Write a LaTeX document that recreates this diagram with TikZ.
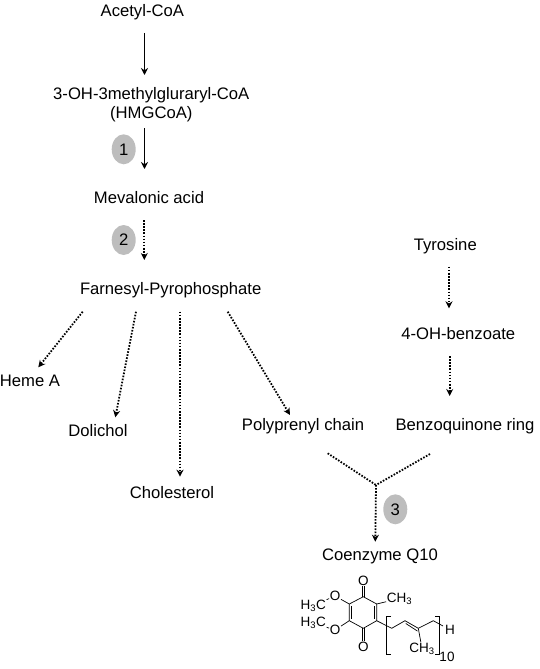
\documentclass[tikz,border=0pt]{standalone}
\usepackage{fontspec}
\setmainfont{Liberation Sans}
\usepackage{tikz}
\usetikzlibrary{positioning,arrows.meta,calc,shapes.geometric}
\definecolor{badgegray}{HTML}{BDBDBD}
\tikzset{
  >={Stealth[length=7pt,width=7pt]},
  label/.style={font=\fontsize{16.65}{19}\selectfont,inner sep=1pt,align=center},
  badge/.style={ellipse,fill=badgegray,minimum width=24pt,minimum height=30pt,inner sep=0pt,font=\fontsize{16.65}{18}\selectfont},
  solidarrow/.style={->,line width=1.9pt},
  dotarrow/.style={->,line width=1.8pt,dash pattern=on 1.6pt off 1.5pt},
  dotline/.style={line width=1.8pt,dash pattern=on 1.6pt off 1.5pt},
  atom/.style={font=\fontsize{13.5}{15}\selectfont,inner sep=0.5pt},
  bond/.style={line width=0.7pt},
}
\begin{document}
\begin{tikzpicture}[x=1pt,y=-1pt]
\useasboundingbox (0,0) rectangle (540,669);

% pathway
\node[label] (acetyl) at (142.3,12.5) {Acetyl-CoA};
\node[label] (hmg) at (151.3,104.5) {3-OH-3methylgluraryl-CoA\\(HMGCoA)};
\node[label] (mevalonic) at (149,198) {Mevalonic acid};
\node[label] (farnesyl) at (170.7,290.5) {Farnesyl-Pyrophosphate};
\node[label] (heme) at (30,381) {Heme A};
\node[label] (dolichol) at (98,431) {Dolichol};
\node[label] (cholesterol) at (172,493) {Cholesterol};
\node[label] (polyprenyl) at (303,426.5) {Polyprenyl chain};
\node[label] (tyrosine) at (445.3,246) {Tyrosine};
\node[label] (benzoate) at (458.3,334) {4-OH-benzoate};
\node[label] (benzoquinone) at (465,426) {Benzoquinone ring};
\node[label] (q10) at (380,556) {Coenzyme Q10};

\node[badge] (one) at (123.7,149.3) {1};
\node[badge] (two) at (123.7,240) {2};
\node[badge] (three) at (395.3,509.3) {3};

\coordinate (ypoly) at (327.7,453.3);
\coordinate (ybenzo) at (430,454);
\coordinate (yjoin) at (376,485);

\draw[solidarrow] ([xshift=2.2pt,yshift=-20.5pt]acetyl.center) -- ([xshift=-6.8pt,yshift=29.5pt]hmg.center);
\draw[solidarrow] ([xshift=-6.8pt,yshift=-23.5pt]hmg.center) -- ([xshift=-4.5pt,yshift=29pt]mevalonic.center);
\draw[dotarrow] ([xshift=-4.7pt,yshift=-22pt]mevalonic.center) -- ([xshift=-26.4pt,yshift=30.5pt]farnesyl.center);

\draw[dotarrow] ([xshift=-88pt,yshift=-21.2pt]farnesyl.center) -- ([xshift=8.3pt,yshift=13.7pt]heme.center);
\draw[dotarrow] ([xshift=-34.7pt,yshift=-21.2pt]farnesyl.center) -- ([xshift=17.3pt,yshift=13.7pt]dolichol.center);
\draw[dotarrow] ([xshift=9.3pt,yshift=-21.2pt]farnesyl.center) -- ([xshift=8pt,yshift=16.3pt]cholesterol.center);
\draw[dotarrow] ([xshift=57pt,yshift=-21.2pt]farnesyl.center) -- ([xshift=-13pt,yshift=11.5pt]polyprenyl.center);
\draw[dotarrow] ([xshift=3.7pt,yshift=-20.7pt]tyrosine.center) -- ([xshift=-9.3pt,yshift=25.7pt]benzoate.center);
\draw[dotarrow] ([xshift=-8.6pt,yshift=-22pt]benzoate.center) -- ([xshift=-15.3pt,yshift=30pt]benzoquinone.center);

\draw[dotline] (ypoly) -- (yjoin);
\draw[dotline] (ybenzo) -- (yjoin);
\draw[dotarrow] (yjoin) -- ([xshift=-4.7pt,yshift=14.3pt]q10.center);

% quinone structure
\coordinate (r1) at (363.3,596.7);
\coordinate (r2) at (376.7,604);
\coordinate (r3) at (376.7,620.7);
\coordinate (r4) at (363.3,628.3);
\coordinate (r5) at (349.3,620.7);
\coordinate (r6) at (349.3,604);
\coordinate (c1) at (391.7,628.3);
\coordinate (c2) at (405,620.7);
\coordinate (c3) at (418.3,628.3);
\coordinate (c4) at (433.3,620.7);
\coordinate (c5) at (443,626);

\node[atom] (otop) at (363.3,581) {O};
\node[atom] (obot) at (363.3,646.7) {O};
\node[atom] (oup) at (335,596) {O};
\node[atom] (olow) at (335,630) {O};
\node[atom] (ch3a) at (313.3,605.5) {H\textsubscript{3}C};
\node[atom] (ch3b) at (313.3,623) {H\textsubscript{3}C};
\node[atom] (ch3c) at (399.5,598.5) {CH\textsubscript{3}};
\node[atom] (ch3d) at (422,648.5) {CH\textsubscript{3}};
\node[atom] (hend) at (450,630) {H};
\node[atom] (ten) at (447,657) {10};

\draw[bond] (r1) -- (r2) -- (r3) -- (r4) -- (r5) -- (r6) -- cycle;
\draw[bond] ($(r2)+(-2.5,2)$) -- ($(r3)+(-2.5,-2)$);
\draw[bond] ($(r5)+(2.5,-2)$) -- ($(r6)+(2.5,2)$);
\draw[bond] ([xshift=-1.3pt]r1) -- ([xshift=-1.3pt]otop.south);
\draw[bond] ([xshift=1.3pt]r1) -- ([xshift=1.3pt]otop.south);
\draw[bond] ([xshift=-1.3pt]r4) -- ([xshift=-1.3pt]obot.north);
\draw[bond] ([xshift=1.3pt]r4) -- ([xshift=1.3pt]obot.north);
\draw[bond] (r6) -- (oup);
\draw[bond] (r5) -- (olow);
\draw[bond] (oup) -- (ch3a);
\draw[bond] (olow) -- (ch3b);
\draw[bond] (r2) -- (ch3c);
\draw[bond] (r3) -- (c1) -- (c2) -- (c3) -- (c4) -- (c5);
\draw[bond] ($(c2)+(0.8,2.8)$) -- ($(c3)+(-0.8,2.8)$);
\draw[bond] (c3) -- (ch3d);
\draw[bond] (391,616) -- (386.7,616) -- (386.7,654) -- (391,654);
\draw[bond] (435,616) -- (439.3,616) -- (439.3,654) -- (435,654);
\end{tikzpicture}
\end{document}
